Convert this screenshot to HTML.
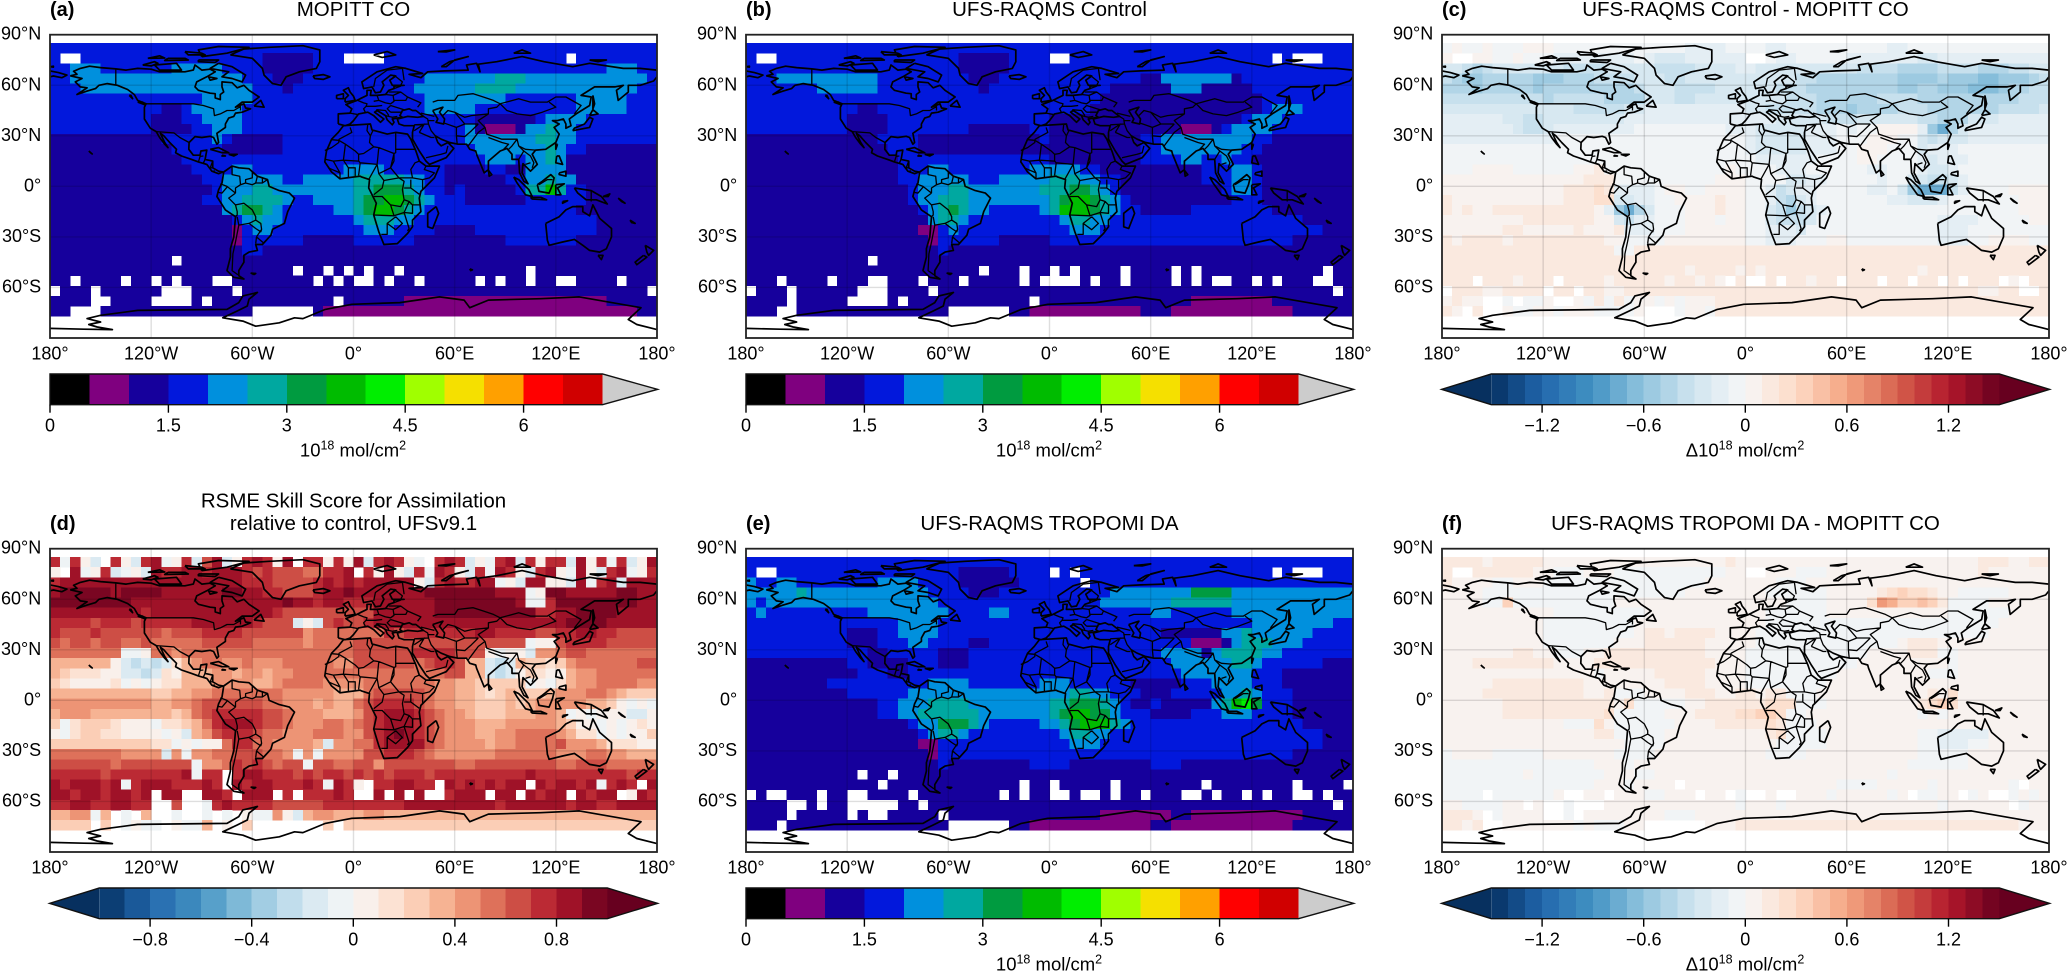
<!DOCTYPE html>
<html lang="en">
<head>
<meta charset="utf-8">
<title>UFS-RAQMS CO maps</title>
<style>
html,body{margin:0;padding:0;background:#fff;width:2067px;height:972px;overflow:hidden}
svg{display:block}
text{font-family:"Liberation Sans",Arial,sans-serif;fill:#000}
</style>
</head>
<body>
<svg id="figure" xmlns="http://www.w3.org/2000/svg" width="2067" height="972" viewBox="0 0 2067 972"></svg>
<script>
const _=null;
// Grid cells: 6 deg wide, rows start at 85N and step 6 deg south.
// Column total values are in units of 0.5e18 mol/cm2.
const mopittCo=[
[3,3,3,3,3,3,3,3,3,3,3,3,3,3,3,3,3,3,3,3,3,3,3,3,3,3,3,3,3,3,3,3,3,3,3,3,3,3,3,3,3,3,3,3,3,3,3,3,3,3,3,3,3,3,3,3,3,3,3,3],
[3,_,_,3,3,3,3,3,3,3,3,3,3,3,3,3,3,3,3,3,3,2,2,2,2,2,3,3,3,_,_,_,_,3,3,3,3,3,3,3,3,3,3,3,3,3,3,3,3,3,3,_,3,3,3,3,3,3,3,3],
[3,3,4,4,4,3,3,3,3,3,3,3,4,4,4,4,4,3,3,3,3,2,2,2,2,2,3,3,3,3,3,3,3,3,3,3,3,3,3,3,3,3,3,3,3,3,3,3,3,3,3,3,3,3,3,4,4,4,3,3],
[3,3,4,4,4,4,4,4,4,4,4,4,4,4,4,4,4,4,4,3,3,3,2,2,2,3,3,3,3,3,3,3,3,3,3,3,3,4,4,4,4,4,4,4,5,5,5,4,4,4,4,4,4,4,4,4,4,4,4,3],
[3,3,3,4,4,4,4,4,4,4,4,4,4,4,4,4,4,4,4,4,3,3,3,2,3,3,3,3,3,3,3,3,3,3,3,3,4,4,4,4,4,4,5,5,5,5,4,4,4,4,4,4,4,4,4,4,4,4,3,3],
[3,3,3,3,3,3,3,3,3,3,3,3,3,3,3,4,4,4,4,4,3,3,3,3,3,3,3,3,3,3,3,3,3,3,3,3,3,4,4,4,4,4,4,4,4,3,3,3,3,3,3,3,4,4,4,4,4,3,3,3],
[3,3,3,3,3,3,3,3,3,3,3,2,2,3,4,4,4,4,4,3,3,3,3,3,3,3,3,3,3,3,3,3,3,3,3,3,3,4,4,4,4,4,3,3,3,3,3,3,3,3,3,3,4,4,4,4,4,3,3,3],
[3,3,3,3,3,3,3,3,3,3,2,2,2,3,3,4,4,4,4,3,3,3,3,3,3,3,3,3,3,3,3,3,3,3,3,3,3,3,3,3,3,3,2,2,2,2,2,2,3,4,4,4,4,3,3,3,3,3,3,3],
[3,3,3,3,3,3,3,3,3,3,2,2,2,2,3,3,4,4,4,3,3,3,3,3,3,3,3,3,3,3,3,3,3,3,3,3,3,3,3,3,3,4,2,1,1,1,2,4,4,5,4,4,3,3,3,3,3,3,3,3],
[2,2,2,2,2,2,2,2,2,2,2,3,3,3,3,3,4,3,2,2,2,2,2,3,3,3,3,3,3,3,3,3,3,3,3,3,3,3,3,3,3,4,4,4,4,4,4,4,5,5,4,4,3,3,3,3,3,3,3,3],
[2,2,2,2,2,2,2,2,2,2,2,2,3,3,3,3,3,2,2,2,2,2,2,3,3,3,3,3,3,3,3,3,3,3,3,3,3,3,3,3,3,3,4,4,4,4,4,4,4,5,4,3,3,2,2,2,2,2,2,2],
[2,2,2,2,2,2,2,2,2,2,2,2,2,3,3,3,3,3,3,3,3,3,3,3,3,3,3,3,3,3,3,3,3,3,3,3,3,3,3,3,3,3,3,4,4,4,3,4,4,5,4,2,2,2,2,2,2,2,2,2],
[2,2,2,2,2,2,2,2,2,2,2,2,2,2,3,3,3,3,4,4,3,3,3,3,3,3,3,3,3,4,4,4,4,3,3,3,3,3,3,2,2,2,2,3,3,2,2,4,4,4,4,2,2,2,2,2,2,2,2,2],
[2,2,2,2,2,2,2,2,2,2,2,2,2,2,2,3,3,4,4,4,4,4,4,3,3,4,4,4,4,4,5,5,5,5,5,4,4,3,3,2,2,2,2,2,2,3,3,4,4,5,4,4,2,2,2,2,2,2,2,2],
[2,2,2,2,2,2,2,2,2,2,2,2,2,2,2,2,3,4,4,4,5,5,4,4,4,4,4,4,4,4,5,5,6,6,6,5,4,3,3,2,3,2,2,2,2,2,3,5,5,7,5,3,3,2,2,2,2,2,2,2],
[2,2,2,2,2,2,2,2,2,2,2,2,2,2,2,3,3,4,4,5,5,5,5,4,3,3,4,4,4,4,5,6,6,7,7,6,5,4,3,3,3,2,2,2,2,2,2,3,3,3,3,3,3,2,2,2,2,2,2,2],
[2,2,2,2,2,2,2,2,2,2,2,2,2,2,2,2,2,4,5,6,6,5,4,3,3,3,3,3,4,4,5,6,7,7,6,5,4,3,3,3,3,3,3,3,3,3,3,3,3,3,3,3,2,2,2,2,2,2,2,2],
[2,2,2,2,2,2,2,2,2,2,2,2,2,2,2,2,2,2,3,4,5,4,4,3,3,3,3,3,3,3,4,5,5,5,4,4,3,3,3,3,3,3,3,3,3,3,3,3,3,3,3,3,3,3,2,2,2,2,2,2],
[2,2,2,2,2,2,2,2,2,2,2,2,2,2,2,2,2,2,1,3,4,4,3,3,3,3,3,3,3,3,3,4,4,4,3,3,3,3,2,2,2,2,3,3,3,3,3,3,3,3,3,3,3,3,2,2,2,2,2,2],
[2,2,2,2,2,2,2,2,2,2,2,2,2,2,2,2,2,2,1,3,3,3,3,3,3,2,2,2,2,2,3,3,3,3,3,3,2,2,2,2,2,2,2,2,2,3,3,3,3,3,3,3,2,2,2,2,2,2,2,2],
[2,2,2,2,2,2,2,2,2,2,2,2,2,2,2,2,2,2,2,3,3,2,2,2,2,2,2,2,2,2,2,2,2,2,2,2,2,2,2,2,2,2,2,2,2,2,2,2,2,2,2,2,2,2,2,2,2,2,2,2],
[2,2,2,2,2,2,2,2,2,2,2,2,_,2,2,2,2,2,2,2,2,2,2,2,2,2,2,2,2,2,2,2,2,2,2,2,2,2,2,2,2,2,2,2,2,2,2,2,2,2,2,2,2,2,2,2,2,2,2,2],
[2,2,2,2,2,2,2,2,2,2,2,2,2,2,2,2,2,2,2,2,2,2,2,2,_,2,2,_,2,_,2,_,2,2,_,2,2,2,2,2,2,2,2,2,2,2,2,_,2,2,2,2,2,2,2,2,2,2,2,2],
[2,2,_,2,2,2,2,_,2,2,_,2,_,2,2,2,_,_,2,2,2,2,2,2,2,2,_,2,_,2,_,_,2,_,2,2,_,2,2,2,2,2,_,2,_,2,2,_,2,2,_,_,2,2,2,2,_,2,2,2],
[_,2,2,2,_,2,2,2,2,2,2,_,_,_,2,2,2,2,_,2,2,2,2,2,2,2,2,2,2,2,2,2,2,2,2,2,2,2,2,2,2,2,2,2,2,2,2,2,2,2,2,2,2,2,2,2,2,2,2,_],
[2,2,2,2,_,_,2,2,2,2,_,_,_,_,2,_,2,2,2,2,2,2,2,2,2,2,2,2,_,2,2,2,2,2,2,1,1,1,1,1,1,1,1,1,1,1,1,1,1,1,1,1,1,1,1,2,2,2,2,2],
[2,2,_,_,_,2,2,2,2,2,2,2,2,2,2,2,2,2,2,2,_,_,_,_,_,_,2,1,1,1,1,1,1,1,1,1,1,1,1,1,1,1,1,1,1,1,1,1,1,1,1,1,1,1,1,1,1,1,2,2]
];
const controlCo=[
[3,3,3,3,3,3,3,3,3,3,3,3,3,3,3,3,3,3,3,3,3,3,3,3,3,3,3,3,3,3,3,3,3,3,3,3,3,3,3,3,3,3,3,3,3,3,3,3,3,3,3,3,3,3,3,3,3,3,3,3],
[3,_,_,3,3,3,3,3,3,3,3,3,3,3,3,3,3,3,3,3,3,2,2,2,2,2,3,3,3,3,_,_,3,3,3,3,3,3,3,3,3,3,3,3,3,3,3,3,3,3,3,3,_,3,_,_,_,3,3,3],
[3,3,3,3,3,3,3,3,3,3,3,3,3,3,3,3,3,3,3,3,3,2,2,2,2,2,3,3,3,3,3,3,3,3,3,3,3,3,3,3,3,3,3,3,3,3,3,3,3,3,3,3,3,3,3,3,3,3,3,3],
[3,3,3,4,4,4,4,4,4,4,4,4,4,3,3,3,3,3,3,3,3,3,2,2,2,3,3,3,3,3,3,3,3,3,3,3,3,3,3,2,2,4,4,4,4,4,4,4,2,3,3,3,3,3,3,3,3,3,3,3],
[3,3,3,3,3,3,3,4,4,4,4,4,4,3,3,3,3,3,3,3,3,3,3,2,3,3,3,3,3,3,3,3,3,3,3,3,2,2,2,2,2,2,4,4,4,2,2,2,2,2,3,3,3,3,3,3,3,3,3,3],
[3,3,3,3,3,3,3,3,3,3,3,3,3,3,3,3,3,3,3,3,3,3,3,3,3,3,3,3,3,3,3,3,3,3,3,2,2,2,2,2,2,2,2,2,2,2,2,2,2,2,2,3,3,3,3,3,3,3,3,3],
[3,3,3,3,3,3,3,3,3,3,3,2,2,3,3,3,3,3,3,3,3,3,3,3,3,3,3,3,3,3,3,3,3,3,2,2,2,2,2,2,2,2,2,2,2,2,2,2,2,2,2,3,4,4,4,3,3,3,3,3],
[3,3,3,3,3,3,3,3,3,3,2,2,2,2,3,3,3,3,3,3,3,3,3,3,3,3,3,3,3,3,2,2,2,2,2,2,2,2,2,2,2,2,2,2,2,2,2,2,2,3,4,4,4,3,3,3,3,3,3,3],
[3,3,3,3,3,3,3,3,3,3,2,2,2,2,3,3,3,3,3,3,3,3,2,2,2,2,2,2,3,3,2,2,2,2,2,2,2,2,2,2,2,2,2,1,1,1,2,3,4,4,4,4,3,3,3,3,3,3,3,3],
[2,2,2,2,2,2,2,2,2,2,2,2,2,3,3,3,3,2,2,2,2,2,2,2,2,2,2,2,2,3,2,2,2,2,2,2,2,2,2,3,3,4,4,4,4,4,4,4,4,4,3,3,2,2,2,2,2,2,2,2],
[2,2,2,2,2,2,2,2,2,2,2,2,2,2,3,3,3,2,2,2,2,2,2,2,2,2,2,2,2,2,2,2,2,2,2,2,2,2,2,3,3,4,4,4,4,4,4,4,4,3,3,2,2,2,2,2,2,2,2,2],
[2,2,2,2,2,2,2,2,2,2,2,2,2,2,2,3,3,3,3,3,3,3,3,3,3,3,3,3,3,3,2,2,2,2,2,2,2,2,2,3,3,3,3,4,4,3,3,4,3,3,2,2,2,2,2,2,2,2,2,2],
[2,2,2,2,2,2,2,2,2,2,2,2,2,2,2,3,3,3,4,4,3,3,3,3,3,3,3,3,4,4,4,4,4,3,3,2,2,2,2,2,2,2,2,2,2,3,3,3,4,4,3,2,2,2,2,2,2,2,2,2],
[2,2,2,2,2,2,2,2,2,2,2,2,2,2,2,3,3,4,4,4,4,4,3,3,3,4,4,4,4,4,5,5,5,4,4,3,3,2,2,2,2,2,2,2,2,3,3,3,4,4,3,2,2,2,2,2,2,2,2,2],
[2,2,2,2,2,2,2,2,2,2,2,2,2,2,2,2,3,4,4,4,5,5,4,4,4,4,4,4,4,5,5,5,6,6,5,4,3,2,2,2,2,2,2,2,2,2,2,3,4,4,3,2,2,2,2,2,2,2,2,2],
[2,2,2,2,2,2,2,2,2,2,2,2,2,2,2,2,3,4,4,5,5,5,4,4,4,4,4,4,4,4,5,6,7,7,6,5,4,3,2,2,2,2,2,2,2,2,2,2,3,3,3,2,2,2,2,2,2,2,2,2],
[2,2,2,2,2,2,2,2,2,2,2,2,2,2,2,2,2,3,4,5,6,5,4,4,3,3,3,3,3,4,5,7,7,7,6,5,4,3,3,2,2,2,2,2,3,3,3,3,3,3,3,3,2,2,2,2,2,2,2,2],
[2,2,2,2,2,2,2,2,2,2,2,2,2,2,2,2,2,2,4,5,5,4,3,3,3,3,3,3,3,3,3,4,5,5,4,4,3,3,3,3,3,3,3,3,3,3,3,3,3,3,3,3,3,3,3,2,2,2,2,2],
[2,2,2,2,2,2,2,2,2,2,2,2,2,2,2,2,2,1,1,3,4,3,3,3,3,3,3,3,3,3,3,3,4,4,4,3,3,3,3,3,3,3,3,3,3,3,3,3,3,3,3,3,3,3,3,3,3,2,2,2],
[2,2,2,2,2,2,2,2,2,2,2,2,2,2,2,2,2,2,1,3,3,3,3,3,3,2,2,2,2,2,3,3,3,3,3,3,3,3,3,3,3,3,3,3,3,3,3,3,3,3,3,3,3,3,2,2,2,2,2,2],
[2,2,2,2,2,2,2,2,2,2,2,2,2,2,2,2,2,2,2,3,2,2,2,2,2,2,2,2,2,2,2,2,2,2,2,2,2,2,2,2,2,2,2,2,2,2,2,2,2,2,2,2,2,2,2,2,2,2,2,2],
[2,2,2,2,2,2,2,2,2,2,2,2,_,2,2,2,2,2,2,2,2,2,2,2,2,2,2,2,2,2,2,2,2,2,2,2,2,2,2,2,2,2,2,2,2,2,2,2,2,2,2,2,2,2,2,2,2,2,2,2],
[2,2,2,2,2,2,2,2,2,2,2,2,2,2,2,2,2,2,2,2,2,2,2,_,2,2,2,_,2,2,_,2,_,2,2,2,2,_,2,2,2,2,_,2,_,2,2,2,2,2,2,2,2,2,2,2,2,_,2,2],
[2,2,2,_,2,2,2,2,_,2,2,2,_,_,2,2,2,_,2,2,2,_,2,2,2,2,2,_,2,_,_,_,_,2,_,2,2,_,2,2,2,2,_,2,_,2,_,_,2,2,_,2,_,2,2,2,_,_,2,2],
[_,2,2,2,_,2,2,2,2,2,2,_,_,_,2,2,2,2,_,2,2,2,2,2,2,2,2,2,2,2,2,2,2,2,2,2,2,2,2,2,2,2,2,2,2,2,2,2,2,2,2,2,2,2,2,2,2,2,_,2],
[2,2,2,2,_,2,2,2,2,2,_,_,_,_,2,_,2,2,2,2,2,2,2,2,2,2,2,2,_,2,2,2,2,2,2,2,2,2,2,2,2,2,2,2,1,1,1,1,1,1,1,1,2,2,2,2,2,2,2,2],
[2,2,2,_,_,2,2,2,2,2,2,2,2,2,2,2,2,2,2,2,_,_,_,_,_,_,2,2,1,1,1,1,1,1,1,1,1,1,1,2,2,2,1,1,1,1,1,1,1,1,1,1,1,1,2,2,2,2,2,2]
];
const assimilationCo=[
[3,3,3,3,3,3,3,3,3,3,3,3,3,3,3,3,3,3,3,3,3,3,3,3,3,3,3,3,3,3,3,3,3,3,3,3,3,3,3,3,3,3,3,3,3,3,3,3,3,3,3,3,3,3,3,3,3,3,3,3],
[3,_,_,3,3,3,3,3,3,3,3,3,3,3,3,3,3,3,3,3,3,2,2,2,2,2,3,3,3,3,_,3,_,3,3,3,3,3,3,3,3,3,3,3,3,3,3,3,3,3,3,3,_,3,_,_,_,3,3,3],
[4,3,3,4,4,3,3,3,3,3,3,3,3,4,4,4,4,3,3,3,3,2,2,2,2,2,2,3,3,3,3,3,3,_,3,3,3,3,3,3,3,3,3,3,3,3,3,3,3,3,3,3,3,3,3,3,3,3,3,3],
[4,4,4,4,4,5,4,4,4,4,4,4,4,4,4,4,4,4,3,3,3,3,2,2,2,3,3,3,3,3,3,3,3,3,3,3,4,4,4,4,4,4,4,4,6,6,6,6,4,4,4,4,4,4,4,4,4,4,4,4],
[4,3,4,4,4,4,4,4,4,4,4,4,4,4,4,4,4,4,4,3,3,3,3,3,3,3,3,3,3,3,3,3,3,3,3,4,4,4,4,4,4,4,5,5,5,5,5,5,4,4,4,4,4,4,4,4,4,4,4,4],
[3,4,3,3,3,3,3,3,3,3,3,3,4,4,4,4,4,4,4,4,3,3,3,3,4,4,3,3,3,3,3,3,3,3,3,3,3,3,3,3,4,4,3,3,3,3,3,3,4,4,4,4,4,4,4,4,4,4,4,4],
[3,3,3,3,3,3,3,3,3,3,3,3,3,3,3,4,4,4,4,3,3,3,3,3,3,3,3,3,3,3,3,3,3,3,3,3,3,3,3,3,3,3,3,3,3,3,3,3,3,3,4,4,4,4,4,4,4,4,3,3],
[3,3,3,3,3,3,3,3,3,3,2,2,2,3,3,4,4,4,4,3,3,3,3,3,3,3,3,3,3,3,3,3,3,3,3,3,3,3,3,3,3,2,2,2,2,2,2,4,4,5,4,4,4,4,4,4,3,3,3,3],
[3,3,3,3,3,3,3,3,3,3,2,2,2,3,3,3,4,4,3,3,3,3,2,2,3,3,3,3,3,3,3,3,3,3,3,3,3,3,3,3,3,3,3,3,1,1,1,2,4,5,5,5,4,4,4,3,3,3,3,3],
[3,3,3,3,3,3,3,3,3,3,3,3,2,2,3,3,3,3,3,2,2,2,3,3,3,3,3,3,3,3,3,3,3,3,3,3,3,3,3,3,3,4,4,4,4,2,4,5,5,5,5,4,4,3,3,3,3,3,3,3],
[2,2,2,2,2,2,2,2,2,2,3,3,2,2,2,2,3,3,3,2,2,2,3,3,3,3,3,3,3,3,3,3,3,3,3,3,3,3,3,3,3,3,4,4,4,4,4,4,5,5,4,3,3,3,3,3,3,2,2,2],
[2,2,2,2,2,2,2,2,2,2,2,3,3,3,2,2,3,3,3,3,3,3,3,3,3,3,3,3,3,3,3,3,3,3,3,3,3,3,3,3,3,3,3,4,4,4,4,4,4,4,3,3,3,2,2,2,2,2,2,2],
[2,2,2,2,2,2,2,2,3,3,3,3,3,3,3,3,3,3,4,4,4,4,3,3,3,3,3,3,3,4,4,4,3,3,3,3,3,3,2,2,2,2,2,3,3,3,4,4,4,4,3,3,3,2,2,2,2,2,2,2],
[2,2,2,2,2,2,2,2,2,2,3,3,3,3,3,3,4,4,4,4,4,4,4,4,4,4,4,4,4,4,4,4,5,5,4,4,3,3,3,2,2,2,3,3,3,3,3,4,4,5,4,3,3,3,2,2,2,2,2,2],
[2,2,2,2,2,2,2,2,2,2,2,2,2,3,3,4,4,4,5,5,5,5,4,4,4,4,4,4,4,4,5,5,6,6,6,5,4,3,2,2,3,2,2,2,2,2,4,5,7,8,6,3,3,3,2,2,2,2,2,2],
[2,2,2,2,2,2,2,2,2,2,2,2,2,3,3,4,4,5,5,5,5,5,5,4,4,4,4,4,4,4,5,6,7,7,6,6,4,3,3,3,2,2,2,2,3,3,3,4,4,4,3,3,3,3,2,2,2,2,2,2],
[2,2,2,2,2,2,2,2,2,2,2,2,2,2,2,2,3,4,4,6,6,6,5,4,3,3,3,3,3,4,4,5,6,7,7,7,5,4,3,3,3,3,3,3,3,3,3,3,3,3,3,3,3,3,3,2,2,2,2,2],
[2,2,2,2,2,2,2,2,2,2,2,2,2,2,2,2,2,3,4,5,5,4,3,3,3,3,3,3,3,3,3,4,5,5,4,4,3,3,3,3,3,3,3,3,3,3,3,3,3,3,3,3,3,3,3,3,3,2,2,2],
[2,2,2,2,2,2,2,2,2,2,2,2,2,2,2,2,2,1,1,3,3,3,3,3,3,3,3,3,3,3,3,3,4,4,4,3,3,3,3,3,3,3,3,3,3,3,3,3,3,3,3,3,3,3,3,3,3,2,2,2],
[2,2,2,2,2,2,2,2,2,2,2,2,2,2,2,2,2,2,1,3,3,3,3,3,3,3,3,3,3,3,3,3,3,3,3,3,3,3,3,3,3,3,3,3,3,3,3,3,3,3,3,3,3,3,2,2,2,2,2,2],
[2,2,2,2,2,2,2,2,2,2,2,2,2,2,2,2,2,2,2,3,2,2,2,2,2,2,2,2,3,3,3,3,2,2,2,2,2,2,2,2,3,3,3,2,2,2,2,2,2,2,2,2,2,2,2,2,2,2,2,2],
[2,2,2,2,2,2,2,2,2,2,2,_,2,2,_,2,2,2,2,2,2,2,2,2,2,2,2,2,2,2,2,2,2,2,2,2,2,2,2,2,2,2,2,2,2,2,2,2,2,2,2,2,2,2,2,2,2,2,2,2],
[2,2,2,2,2,2,2,2,2,2,2,2,2,_,2,2,2,2,2,2,2,2,2,2,2,2,2,_,2,2,_,2,2,2,2,2,_,2,2,2,2,2,2,2,2,_,2,2,2,2,2,2,2,2,_,2,2,2,2,_],
[_,2,_,_,2,2,2,_,2,2,_,_,2,2,2,2,_,2,2,2,2,2,2,2,2,_,2,_,2,2,_,_,2,_,_,2,_,2,2,_,2,2,2,_,_,2,_,2,2,_,2,_,2,2,_,_,2,_,2,2],
[2,2,2,2,_,_,2,_,2,2,_,_,_,_,_,2,2,_,2,2,2,2,2,2,2,2,2,2,2,2,2,2,2,2,2,2,2,2,2,2,2,2,2,2,2,2,2,2,2,2,2,2,2,2,2,2,2,2,_,2],
[2,2,2,2,_,2,2,2,2,2,_,2,_,_,2,2,2,2,2,_,2,2,2,2,2,2,2,2,2,2,2,2,2,2,2,1,1,1,1,1,1,1,2,2,1,1,1,1,1,1,1,1,1,1,1,2,2,2,2,2],
[2,2,2,_,2,2,2,2,2,2,2,2,2,2,2,2,2,2,2,2,_,_,_,_,_,_,2,2,1,1,1,1,1,1,1,1,1,1,1,1,2,2,1,1,1,1,1,1,1,1,1,1,1,1,2,2,2,2,2,2]
];
// Difference fields: units of 0.1e18 mol/cm2; a value k is the bin from k to k+1.
const controlMinusMopitt=[
[-1,0,-1,-1,0,-1,-1,-1,0,0,0,-1,-1,-1,-1,-1,-1,-1,-1,-1,-1,-1,-1,-1,-2,-2,-2,-2,-1,-1,-1,-1,-2,-2,-1,-1,-1,-1,-1,-1,-1,-1,-1,-1,-2,-2,-1,-1,-1,-1,-1,-1,-1,-1,-1,-1,-1,-1,-1,-1],
[0,_,_,0,0,-1,-1,0,-1,-1,-1,-2,-2,-2,-2,-2,-2,-2,-2,-1,-2,-3,-3,-3,-2,-2,-2,-2,-2,-2,_,_,-1,-2,-2,-1,-1,-1,-1,-1,-2,-2,-2,-2,-2,-2,-2,-3,-3,-2,-2,-2,-2,-2,-2,-2,-2,-2,-2,-2],
[-3,-3,-4,-5,-4,-3,-3,-3,-3,-3,-3,-3,-4,-4,-4,-4,-3,-3,-3,-3,-3,-4,-4,-4,-4,-3,-3,-3,-3,-2,-2,-3,-3,-3,-3,-3,-3,-3,-3,-3,-3,-4,-4,-4,-4,-5,-5,-5,-5,-4,-4,-4,-4,-5,-5,-5,-4,-4,-3,-3],
[-4,-5,-6,-6,-5,-5,-5,-5,-5,-6,-6,-6,-5,-5,-5,-4,-4,-4,-4,-3,-3,-3,-4,-4,-3,-3,-3,-3,-3,-3,-3,-3,-3,-3,-3,-4,-4,-5,-5,-5,-5,-5,-5,-5,-5,-6,-6,-6,-6,-5,-6,-6,-6,-7,-7,-6,-6,-6,-5,-4],
[-5,-5,-5,-6,-5,-5,-5,-5,-5,-6,-5,-5,-5,-5,-5,-5,-5,-5,-5,-4,-3,-3,-3,-4,-4,-4,-4,-3,-3,-3,-3,-3,-3,-4,-4,-4,-5,-5,-5,-5,-5,-5,-5,-5,-5,-6,-6,-5,-5,-6,-6,-6,-7,-7,-7,-6,-5,-5,-4,-4],
[-4,-4,-4,-4,-4,-4,-4,-4,-4,-4,-5,-4,-4,-4,-4,-4,-5,-5,-5,-5,-3,-3,-3,-4,-4,-3,-3,-3,-3,-3,-3,-3,-3,-3,-4,-4,-4,-5,-5,-5,-5,-5,-5,-4,-4,-4,-4,-5,-5,-5,-5,-5,-5,-5,-5,-5,-5,-4,-4,-4],
[-3,-3,-3,-3,-3,-3,-3,-3,-3,-3,-3,-3,-3,-4,-4,-4,-4,-4,-3,-3,-2,-2,-2,-2,-2,-2,-2,-2,-2,-2,-3,-3,-4,-4,-4,-4,-4,-5,-5,-5,-6,-5,-5,-5,-5,-4,-4,-4,-5,-5,-5,-5,-5,-5,-5,-4,-4,-4,-4,-3],
[-2,-2,-2,-2,-2,-2,-3,-3,-4,-4,-3,-3,-3,-3,-3,-3,-3,-3,-2,-2,-2,-2,-2,-2,-2,-2,-2,-2,-2,-2,-2,-2,-2,-3,-3,-3,-3,-3,-4,-4,-4,-3,-3,-3,-3,-3,-3,-4,-4,-5,-5,-5,-3,-3,-3,-2,-2,-2,-2,-2],
[-2,-2,-2,-2,-2,-2,-2,-3,-4,-4,-3,-2,-2,-2,-2,-2,-2,-2,-2,-1,-1,-1,-1,-1,-1,-1,-1,-1,-2,-2,-2,-3,-3,-3,-3,-3,-2,-2,-2,-1,-2,-1,-1,0,0,0,0,-2,-6,-8,-5,-3,-2,-2,-2,-2,-2,-2,-2,-2],
[-2,-2,-2,-2,-2,-2,-2,-2,-2,-2,-2,-1,-1,-1,-1,-1,-1,-1,-1,-1,-1,-1,-1,-1,-1,-1,-1,-1,-1,-1,-2,-3,-3,-3,-3,-3,-2,-2,-2,-1,-1,-1,0,0,0,-1,-1,-3,-4,-3,-3,-3,-2,-2,-2,-2,-2,-2,-2,-2],
[-1,-1,-1,-1,-1,-1,-1,-1,-1,-1,-1,-1,-1,-1,-1,-1,-1,-1,-1,-1,-1,-1,-1,-1,-1,-1,-1,-1,-1,-1,-2,-3,-3,-3,-3,-3,-2,-2,-2,-1,-1,0,0,0,-1,-1,-1,-3,-2,-2,-2,-1,-1,-1,-1,-1,-1,-1,-1,-1],
[-1,-1,-1,-1,-1,-1,-1,-1,-1,-1,-1,-1,-1,-1,-1,-1,-1,-1,-1,-1,-1,-1,-1,-1,-1,-1,-1,-1,-1,-1,-1,-2,-2,-2,-2,-2,-2,-1,-1,-1,-1,0,0,-1,-1,-1,-1,-2,-3,-2,-2,-2,-1,-1,-1,-1,-1,-1,-1,-1],
[-1,-1,-1,0,0,0,0,-1,-1,-1,-1,-1,-1,0,0,1,-1,-1,-1,-1,-1,-1,-1,-1,-1,-1,-1,-1,0,-1,-1,-1,-1,-2,-2,-2,-1,-1,-1,-1,-1,-1,-2,-2,-1,-1,-1,-2,-3,-3,-2,-1,-1,-1,-1,-1,-1,-1,-1,-1],
[0,0,0,0,0,0,0,0,0,0,0,0,0,0,1,1,1,-1,-1,-1,-1,-1,-1,-1,-1,-1,-1,0,0,0,-1,-1,-1,-1,-3,-3,-2,-2,-1,-1,-1,-1,-1,-2,-1,-1,-3,-3,-4,-4,-3,-2,-1,-1,-1,-1,-1,-1,-1,-1],
[0,0,0,0,0,0,0,0,0,0,0,0,1,1,1,2,1,-2,-2,-2,-2,-1,0,0,-1,-1,0,0,0,0,-1,-1,-2,-4,-3,-2,-2,-1,-1,-1,-1,-1,-2,-2,-1,-3,-6,-8,-8,-8,-4,-2,-1,-1,-1,-1,0,0,0,0],
[1,0,0,0,0,0,0,0,0,0,0,0,1,1,1,2,2,-3,-3,-2,-2,-1,-1,0,0,0,0,1,0,0,-1,-1,-2,-4,-5,-3,-2,-1,-1,-1,-1,-1,-1,-1,-2,-2,-3,-3,-3,-2,-1,-1,-1,-1,-1,-1,-1,0,0,0],
[1,0,1,0,0,1,1,1,1,1,1,1,1,1,1,0,-2,-6,-8,-5,-3,-1,-1,-1,0,0,0,1,0,0,-1,-1,-3,-4,-6,-4,-3,-2,-1,-1,-1,-1,-1,-1,-1,-1,-1,-1,-1,-1,-1,-1,-1,-1,-1,-1,-1,0,0,0],
[0,0,0,0,0,0,0,0,1,1,1,1,1,1,1,0,0,-3,-4,-2,-2,-1,-1,-1,0,0,0,-1,0,0,-1,-1,-3,-4,-4,-4,-3,-1,-1,-1,-1,-1,-1,-1,-1,-1,-1,-1,-1,-2,-2,-2,-2,-1,-1,-1,-1,-1,0,0],
[0,0,0,0,0,0,1,1,0,0,0,0,0,1,0,0,0,1,-2,-2,-2,-1,-1,-1,0,0,0,0,0,0,-1,-1,-2,-2,-2,-3,-1,-1,-1,-1,-1,-1,-1,-1,-1,-1,-1,-1,-1,-2,-2,-2,-1,-1,-1,-1,-1,-1,-1,-1],
[1,0,1,1,1,1,0,1,1,1,1,1,1,1,1,1,0,0,-1,-1,-1,-1,0,0,0,0,0,0,0,0,-1,-1,-2,-2,-2,-1,-1,-1,0,0,-1,-1,-1,-1,-1,-1,-1,-1,-1,-2,-2,-2,-1,-1,0,0,0,0,-1,-1],
[1,1,1,1,1,1,1,1,1,1,1,1,1,1,1,1,1,-1,-1,1,1,1,1,1,1,1,1,1,1,1,1,1,1,1,1,1,1,1,1,1,1,1,1,1,1,1,1,1,1,1,1,1,1,1,1,1,1,1,1,1],
[1,1,1,1,1,1,1,1,1,1,1,1,1,1,1,1,1,1,1,1,1,1,1,1,1,1,1,1,1,1,1,1,1,1,1,1,1,1,1,1,1,1,1,1,1,1,1,1,1,1,1,1,1,1,1,1,1,1,1,1],
[1,1,1,1,1,1,1,1,1,1,1,1,1,1,1,1,1,1,1,1,1,1,1,1,0,1,1,1,1,0,1,0,1,1,1,1,1,1,1,1,1,1,1,1,1,1,1,0,1,1,1,1,1,1,1,1,1,1,1,1],
[1,1,1,_,1,1,1,0,1,1,1,_,1,1,1,1,0,1,1,1,1,1,0,1,1,0,1,0,_,1,_,_,1,_,1,1,0,1,1,_,1,1,1,_,1,1,_,1,1,_,1,_,1,1,1,_,0,_,1,1],
[_,1,1,1,0,0,1,1,1,1,_,1,1,_,1,1,0,0,1,1,1,1,1,1,1,1,1,1,1,1,1,1,1,1,1,1,1,1,1,1,1,1,1,1,1,1,1,1,1,1,1,1,1,0,0,1,1,_,_,1],
[0,1,0,0,_,_,-1,_,-1,-1,0,_,_,0,-1,1,-1,1,-1,0,0,-1,0,-1,0,0,0,1,1,1,1,1,1,1,1,1,1,1,1,1,1,1,1,1,1,1,1,1,1,1,1,1,1,1,1,1,1,1,1,1],
[1,0,_,1,_,_,0,-1,-1,0,0,-1,0,0,0,-1,-1,-1,-1,0,_,_,_,-1,0,0,-1,1,1,1,1,1,1,1,1,1,1,1,1,1,1,1,1,1,1,1,1,1,1,1,1,1,1,1,1,1,1,1,1,1]
];
const assimilationMinusMopitt=[
[1,1,1,1,0,1,1,1,1,1,0,0,0,0,0,0,0,0,0,0,0,0,0,0,0,0,0,0,1,0,0,0,0,0,0,0,0,0,0,0,0,0,0,0,0,0,0,0,0,0,0,0,0,1,1,1,0,0,1,1],
[1,_,_,1,1,1,1,1,1,0,0,-1,-1,-1,0,0,0,-1,-1,-1,-1,-1,-1,-1,-1,-1,-1,-1,0,0,_,_,0,0,0,-1,-1,-1,0,0,0,0,0,0,0,0,0,0,0,0,0,0,0,1,0,0,0,0,0,0],
[1,0,0,0,0,-1,-1,0,0,0,-1,-1,-1,-1,-1,-1,-1,-1,-1,-1,-1,-1,-1,-1,-1,-1,0,0,0,0,0,0,0,-1,-1,-1,0,0,0,0,0,0,0,0,0,0,0,0,0,0,0,0,0,0,0,0,0,0,0,0],
[0,0,0,0,-1,-1,-1,-1,-1,-1,-1,-1,-1,-1,-1,-1,-1,-1,-1,-1,-1,-1,-1,-1,0,0,0,0,0,0,0,0,-1,-1,-1,-1,-1,-1,0,0,0,0,0,1,2,3,2,2,1,0,0,-1,-1,-1,-1,-1,0,0,0,0],
[0,0,0,0,-1,-1,3,-1,-1,-1,-1,-1,-1,-1,-1,-1,-1,0,0,0,0,0,0,0,0,0,0,0,0,0,0,0,0,0,-1,-1,-1,-1,0,0,0,0,2,6,5,3,3,4,3,1,-1,-1,-1,-1,0,0,0,0,0,0],
[0,0,0,0,0,0,0,0,0,0,0,-1,-1,-1,-1,-1,-1,-1,-1,-1,0,0,0,0,0,0,0,0,0,0,0,0,-1,-1,-1,-1,-1,-1,0,0,0,0,0,0,0,0,0,0,0,0,-1,-1,-1,-1,-1,-1,0,0,0,0],
[0,0,0,0,0,0,0,0,0,0,-1,-1,-1,-1,-1,-1,-1,-1,-1,0,0,0,0,0,0,0,0,0,0,0,0,0,-1,-1,-1,-1,-1,-1,-1,-1,-1,-1,-1,-1,-1,-1,-1,-1,-1,-1,-1,-1,-1,-1,-1,0,0,0,0,0],
[0,0,0,0,0,0,0,0,0,0,-1,-1,-1,-1,-1,-1,-1,-1,-1,0,1,1,0,1,1,1,1,0,0,0,0,-1,-1,-1,-1,-1,-1,-1,-1,-1,-1,-1,-1,-1,-1,-1,-1,-1,-1,-1,-1,-1,-1,-1,0,0,0,0,0,0],
[0,0,0,0,0,0,0,0,0,0,-1,-1,-1,-1,-1,-1,-1,0,0,0,1,1,1,1,1,1,0,0,0,0,0,-1,-1,-1,-1,-1,-1,-1,-1,-1,-1,-1,-1,-1,-1,0,1,1,1,0,0,0,0,0,0,0,0,0,0,0],
[0,0,0,0,0,0,0,1,1,0,0,-1,-1,-1,0,0,1,1,1,1,1,1,1,1,1,1,0,0,0,0,-1,-1,-1,-1,-1,-1,-1,-1,-1,-1,-1,-1,0,0,0,0,1,1,1,-1,-1,0,0,0,0,0,0,0,0,0],
[0,0,0,1,1,1,1,1,1,1,1,0,0,0,0,1,1,1,1,1,1,1,1,1,1,1,1,0,0,0,-1,-1,-1,-1,-1,-1,-1,-1,-1,-1,-1,0,0,0,0,0,0,0,0,0,-1,0,0,0,0,0,0,0,0,0],
[0,0,0,0,0,0,0,0,0,0,0,0,0,0,0,-1,0,0,0,0,0,1,1,1,1,1,0,0,0,0,-1,-1,-1,-1,-1,-1,-1,-1,-1,0,0,0,0,0,0,0,0,0,-1,-1,-1,0,0,0,0,0,0,0,0,0],
[0,0,0,0,0,1,1,1,1,1,1,1,1,1,0,0,0,0,0,0,0,0,1,1,1,1,0,0,0,0,-1,-1,-1,-1,-1,-1,-1,-1,0,0,0,0,0,0,0,0,0,0,0,0,0,0,0,0,0,0,0,0,0,0],
[0,0,0,0,1,1,1,1,1,1,1,1,1,1,0,0,1,-1,-1,-1,0,0,0,0,1,1,1,0,0,1,1,0,1,1,-1,-1,-1,0,0,0,0,0,0,0,0,0,0,0,1,0,2,0,0,0,0,0,0,0,0,0],
[0,0,0,0,0,0,1,1,1,1,1,1,1,1,1,1,1,0,2,-1,-1,-1,-1,-1,0,0,1,1,1,1,1,1,2,2,2,-1,-1,-1,0,0,0,0,0,0,0,0,0,1,2,3,2,0,0,0,0,0,0,0,0,0],
[0,0,0,0,0,0,1,1,1,1,1,1,1,1,1,1,2,-1,-1,-1,-1,-1,0,0,0,1,1,1,1,2,2,3,3,2,-1,-1,0,0,0,0,0,0,0,0,0,0,0,-1,0,-1,0,0,0,0,0,0,0,0,0,0],
[0,0,0,0,0,0,0,0,0,0,0,0,-1,-1,-1,2,0,-1,-1,-1,-1,-1,-1,0,0,0,0,1,1,1,1,1,2,1,-1,-1,-1,0,0,0,0,0,0,0,0,0,0,0,0,0,0,0,0,0,0,0,0,0,0,0],
[0,0,0,0,0,0,0,0,0,0,0,0,0,0,0,1,1,-1,-1,-1,-1,-1,0,0,0,0,0,0,0,0,0,0,1,2,-1,-1,-1,-1,0,0,0,0,0,0,0,0,0,-1,-1,-2,-2,-2,-2,-2,0,0,0,0,0,0],
[0,0,0,0,0,0,0,0,0,0,0,0,0,0,0,0,0,0,-1,-1,-1,-1,0,0,0,0,0,0,0,0,0,0,0,-1,-1,-1,-1,-1,0,0,0,0,0,0,0,0,0,-1,-1,-2,-2,-2,-1,-1,0,0,0,0,0,0],
[-1,0,0,0,0,-1,-1,-1,-1,-1,0,0,0,0,0,0,0,-1,-1,-1,-1,0,0,0,0,0,0,0,0,0,0,0,-1,-1,-1,-1,0,0,0,0,0,0,0,0,0,0,0,-1,-1,-1,-1,-1,0,0,0,0,0,0,0,0],
[-1,-1,-1,-1,-1,-1,-1,-1,-1,-1,-1,-1,-1,-1,-1,0,0,0,-1,0,0,0,0,0,0,0,0,0,0,0,0,0,0,0,0,0,0,0,0,0,0,0,0,0,0,0,-1,-1,-1,-1,-1,-1,0,0,0,0,0,0,0,0],
[-1,-1,-1,-1,-1,-1,-1,-1,0,-1,-1,-1,-1,-1,-1,-1,0,0,0,-1,-1,0,0,0,0,0,0,0,0,0,0,0,0,0,0,0,0,0,0,0,0,0,0,0,-1,0,0,0,0,0,0,0,0,0,0,0,0,0,0,0],
[-1,-1,-1,-1,-1,-1,-1,-1,-1,-1,-1,-1,-1,-1,-1,0,0,0,-1,0,0,0,0,_,0,0,0,0,0,0,0,0,0,0,0,0,0,0,0,-1,-1,-1,-1,0,0,0,0,0,-1,0,0,0,0,0,0,0,-1,_,0,0],
[-1,-1,-1,-1,_,-1,-1,-1,-1,-1,-1,0,_,_,0,0,_,0,0,0,-1,-1,0,0,0,_,0,0,_,-1,_,_,0,_,_,0,0,0,-1,0,0,0,0,0,-1,0,_,-1,-1,0,0,_,-1,0,_,_,-1,0,-1,0],
[0,0,-1,-1,-1,-1,0,0,_,0,_,_,-1,_,_,_,0,0,0,0,0,0,0,0,0,0,0,0,0,-1,0,0,0,-1,0,0,0,0,0,0,0,0,0,0,0,0,0,0,0,-1,0,0,0,0,0,0,_,-1,0,0],
[1,1,1,0,_,-1,0,0,0,0,_,_,-1,_,0,0,0,0,0,0,0,0,-1,-1,-1,0,0,0,0,0,0,0,0,0,0,0,0,0,0,0,0,0,0,0,0,0,0,0,0,0,0,0,0,0,0,0,0,0,0,0],
[1,1,0,1,_,_,0,0,0,0,0,0,0,-1,0,-1,-1,-1,0,0,_,_,_,_,_,_,0,0,0,1,1,1,1,1,1,1,1,1,1,1,1,1,1,1,1,1,1,1,1,1,1,1,1,1,1,1,1,0,0,0]
];
// Skill score: units of 0.1; a value k is the bin from k to k+1.
const skillScore=[
[7,-1,7,0,-2,_,7,0,-2,7,8,-1,0,7,-2,6,8,-2,0,7,8,7,0,8,_,7,7,0,7,0,8,-2,7,8,7,0,-1,_,7,8,7,-2,0,-1,7,8,-2,7,0,7,7,-2,8,0,7,-1,7,-2,0,8],
[0,_,8,-1,0,7,-2,-1,0,-2,8,7,7,8,8,7,8,8,8,7,6,7,6,6,6,5,5,7,7,8,_,7,0,8,0,-2,7,-1,8,7,0,-2,7,-1,8,7,0,-2,7,8,0,-1,8,0,-2,7,8,-1,0,7],
[7,8,8,8,8,8,8,8,8,8,8,8,8,8,8,8,8,8,8,7,7,7,6,6,6,6,7,8,7,8,7,8,8,8,8,8,0,-2,7,8,7,7,8,8,-1,0,-2,8,8,0,0,-2,8,-1,7,8,-2,8,8,8],
[8,9,9,9,9,9,8,9,9,9,9,8,8,8,8,8,8,9,9,8,8,7,7,6,6,6,7,8,8,9,8,8,8,8,8,8,8,9,9,9,9,9,9,9,8,8,8,-1,0,9,9,8,8,8,8,8,9,9,8,8],
[9,9,9,9,9,9,9,9,8,8,8,8,8,8,8,8,8,8,8,8,8,8,8,9,8,8,7,8,8,7,7,7,8,8,8,8,8,8,9,9,9,9,9,9,9,9,8,-1,-1,7,9,9,9,9,9,9,9,9,8,8],
[8,8,8,8,8,8,8,8,8,7,8,8,8,8,8,8,8,8,8,8,8,8,7,6,6,6,6,6,6,6,6,6,8,8,8,8,8,8,9,9,9,9,9,9,9,9,9,9,7,7,8,8,9,9,9,9,8,8,8,8],
[7,7,7,7,6,7,7,7,6,7,7,7,7,7,8,8,8,8,8,8,7,6,6,6,-2,0,-2,6,7,6,6,7,8,8,8,8,8,8,8,8,8,8,8,8,8,8,8,8,8,8,8,9,9,9,9,8,8,8,8,8],
[7,6,6,6,7,6,6,6,6,6,6,5,6,6,6,7,7,7,7,6,6,6,6,6,6,4,5,5,5,5,5,5,5,7,6,7,7,7,7,7,7,7,8,8,7,7,7,7,6,6,7,7,8,8,7,7,6,6,6,6],
[6,5,6,6,5,6,6,5,5,6,5,5,5,5,5,6,6,6,6,6,5,5,5,5,5,4,5,5,5,5,6,6,6,6,6,6,6,6,6,6,6,6,6,6,6,6,6,-1,0,0,6,7,7,7,7,6,6,6,6,6],
[5,5,5,5,5,5,5,-1,-1,0,5,5,4,5,5,5,5,5,5,5,5,5,5,5,5,5,5,5,5,5,6,6,6,6,6,6,7,7,7,7,6,6,6,0,-1,0,0,-2,4,4,5,6,6,5,5,5,5,5,5,5],
[3,3,3,3,3,3,0,-2,-3,-2,-3,-2,1,3,4,5,5,4,4,5,4,4,4,5,5,5,5,5,4,4,6,6,6,6,6,6,5,6,7,7,6,3,3,-2,-3,-2,3,2,2,1,2,4,5,5,5,5,5,5,6,6],
[3,2,1,1,1,0,0,-2,-2,-3,-2,1,0,3,3,3,4,4,3,4,4,3,4,4,5,5,5,5,5,5,5,5,5,5,5,5,5,5,5,6,6,3,3,-2,-3,-2,0,2,1,0,0,3,4,4,5,5,5,5,5,5],
[2,1,0,0,0,0,1,-1,0,-1,0,1,1,3,3,3,4,4,4,4,3,3,4,5,5,5,5,4,4,4,4,5,5,5,5,5,5,5,4,4,3,3,2,2,2,2,2,-1,0,-1,1,3,4,4,5,5,5,5,4,4],
[3,3,3,3,3,3,3,3,3,3,2,2,3,3,4,4,5,5,5,5,5,5,5,4,4,4,4,4,3,3,3,5,6,6,6,6,6,5,4,4,3,3,2,1,2,3,2,2,2,3,4,4,4,5,5,4,3,2,2,2],
[4,4,4,4,4,4,4,4,4,4,3,3,4,4,5,6,6,6,6,6,6,5,5,4,4,4,3,4,3,3,5,6,7,7,7,7,6,5,4,4,3,3,2,2,2,3,2,3,4,4,4,4,4,3,3,2,0,-1,0,-1],
[3,4,4,4,3,3,3,3,3,3,3,3,2,3,5,6,7,7,7,7,7,6,6,5,4,4,4,3,3,3,4,6,7,8,8,8,7,6,5,4,4,3,2,2,2,3,3,3,4,4,3,-1,0,-1,0,0,0,-2,-2,0],
[2,-1,1,2,2,2,1,0,0,0,-1,1,1,2,3,5,7,8,8,8,7,6,6,5,4,4,4,5,5,4,5,6,7,8,8,8,7,6,5,4,4,4,3,3,3,4,4,4,4,4,3,2,0,0,-1,0,-1,0,1,0],
[0,-1,1,2,2,1,1,0,0,0,0,-1,0,-2,3,4,6,7,7,7,6,5,5,4,4,4,5,5,5,4,4,6,7,8,9,8,7,6,5,4,4,4,3,3,4,4,5,5,5,5,4,3,1,1,-1,0,-1,0,0,2],
[2,2,2,2,2,2,2,2,2,2,1,1,-1,0,-1,0,0,5,7,7,5,5,4,4,4,4,3,-2,4,4,5,5,7,8,8,8,8,6,5,4,4,4,4,3,4,4,5,5,5,5,6,4,4,4,3,1,1,1,0,0],
[5,5,5,5,5,5,5,4,4,4,4,-2,4,-1,4,4,5,5,6,6,6,5,5,4,-1,4,-1,4,4,4,4,6,6,7,7,7,6,5,4,4,4,4,4,4,5,5,5,5,5,5,4,4,4,5,5,4,4,3,3,3],
[6,6,6,6,6,6,5,6,6,6,6,6,6,6,-1,4,4,5,7,6,7,6,5,6,6,-1,6,6,5,5,6,6,4,6,6,6,6,6,6,6,5,5,6,6,6,6,6,6,6,6,5,5,6,6,6,5,5,5,5,5],
[7,7,7,7,7,6,7,7,7,7,7,7,7,8,-1,7,7,_,7,8,8,7,7,7,6,7,6,7,7,6,7,6,7,6,7,7,7,6,7,7,7,7,7,7,7,7,7,8,7,7,7,7,7,7,7,7,7,6,7,7],
[8,7,8,8,8,7,8,-1,7,8,8,8,7,7,7,8,7,_,8,7,8,8,7,7,7,8,7,-1,8,7,0,_,7,7,8,8,7,7,_,8,7,8,7,8,7,8,8,_,8,7,8,8,7,8,-1,7,8,7,_,8],
[8,8,7,8,8,7,8,8,7,8,_,8,8,_,_,8,8,7,_,8,8,8,_,7,_,7,7,7,8,7,_,_,8,_,8,_,8,_,_,7,8,8,8,_,8,8,_,8,7,8,8,_,8,7,8,8,_,0,8,7],
[7,7,8,8,7,7,8,8,7,7,_,_,6,_,_,-1,7,8,7,7,7,7,6,6,6,6,6,7,7,7,7,7,7,7,7,8,8,8,8,8,8,8,8,8,7,8,8,8,8,8,8,7,8,8,7,7,8,8,8,8],
[3,3,4,4,-1,3,_,-1,_,3,_,_,-1,_,_,-1,_,-1,_,0,-1,-1,4,0,-2,3,4,4,3,3,3,4,4,3,3,3,3,3,3,3,3,3,3,3,3,3,3,3,3,3,3,3,3,3,3,3,3,3,3,3],
[2,2,2,2,_,2,_,-1,0,-1,-1,_,0,-1,-1,3,_,0,_,2,_,_,_,_,_,_,_,2,_,2,2,2,2,2,2,2,2,2,2,2,2,2,2,2,2,2,2,2,2,2,2,2,2,2,2,2,2,2,2,2]
];

const xTickValues=[-180,-120,-60,0,60,120,180];
const xTickLabels=['180°','120°W','60°W','0°','60°E','120°E','180°'];
const yTickValues=[90,60,30,0,-30,-60];
const yTickLabels=['90°N','60°N','30°N','0°','30°S','60°S'];
const gridLonValues=[-120,-60,0,60,120];
const gridLatValues=[60,30,0,-30,-60];
const seqTickValues=[0,1.5,3,4.5,6];
const seqTickLabels=['0','1.5','3','4.5','6'];
const diffTickValues=[-1.2,-0.6,0,0.6,1.2];
const diffTickLabels=['−1.2','−0.6','0','0.6','1.2'];
const skillTickValues=[-0.8,-0.4,0,0.4,0.8];
const skillTickLabels=['−0.8','−0.4','0','0.4','0.8'];
const seqColors=['#000000','#7f007f','#16009c','#0218dc','#0090dd','#00a8a0','#009b40','#00bb00','#00ee00','#a0ff00','#f5e000','#ffa000','#ff0000','#d00000'];
const seqOverColor='#cccccc';
const divStops=[[5,48,97],[33,102,172],[67,147,195],[146,197,222],[209,229,240],[247,247,247],[253,219,199],[244,165,130],[214,96,77],[178,24,43],[103,0,31]];

const coastlines=[
[-168,65.6,-164,66.5,-166,68.3,-162,70,-156.5,71.3,-150,70.5,-141,69.7,-135,69,-128,70,-120,69.5,-115,68,-108,68,-100,68,-95,69,-94,72,-90,69,-85,69.5,-82,68,-87,65,-93,62,-94,59,-92,57,-85,55.3,-82,55,-82,52.5,-79,51.5,-79,54.5,-77,56,-78,59,-78,62,-72,61.5,-69,58.5,-65,60,-62,57,-56,53,-60,50,-66,50,-70,47,-65,49,-64,46.5,-61,46,-66,44,-70,43.5,-71,41.5,-74,40.5,-76,37,-76,35,-81,31.5,-80,26,-81,25,-83,29,-85,29.7,-90,29,-94,29.5,-97.5,26,-97.7,22,-95,18.5,-91,18.5,-90.5,21,-87,21.5,-88,16,-83.5,15,-83.5,11,-80,9,-77.5,8.5,-80,7.5,-84,9,-87,13,-92,14.5,-96,16,-102,18,-105.5,20,-105,22,-109,26,-112.5,30,-114.5,31.5,-112,26,-110,23,-112,25,-115,29,-117,32.5,-120.5,34.5,-124,40,-124,47,-123,49,-128,51,-130,54.5,-134,57.5,-140,60,-146,61,-151,60,-153,58,-158,56.5,-164,54.5,-158,58.5,-162,59,-165,62,-161,64,-168,65.6],
[-73,78,-65,81.5,-50,82.5,-30,83.5,-20,81,-20,74,-22,70,-32,68,-40,65,-43,60,-48,61,-53,66,-54,70,-60,76,-73,78],
[-80,73,-72,71,-64,66,-66,62,-72,64,-78,65,-74,68,-85,70,-80,73],
[-118,72,-105,73,-102,69,-115,69,-118,72],
[-90,77,-75,79,-62,82.5,-80,83,-92,81,-90,77],
[-125,72,-118,74,-116,73,-120,71.5,-125,72],
[-110,76,-100,76,-98,75,-112,74.7,-110,76],
[-92,75,-80,75,-82,73.5,-92,74,-92,75],
[-122,76,-115,77.5,-112,76.2,-122,76],
[-100,80,-90,79,-88,78,-98,78,-100,80],
[-86,65,-81,64,-85,63,-86,65],
[-59,47.7,-53,47,-55,51,-59,47.7],
[-128,50,-124,48.5,-125,50,-128,50],
[-133,54,-131,52,-132,54,-133,54],
[-157,21,-155,19.2,-156,20,-157,21],
[-85,22,-80,23,-74,20,-78,20,-85,22],
[-74,19,-69,19,-71,18,-74,19],
[-78,18.4,-76,18,-78,18,-78,18.4],
[-24,65.5,-18,66.3,-14,65,-18,63.5,-23,64,-24,65.5],
[12,78,20,80,25,78,17,76.5,12,78],
[52,71,57,74,68,77,60,75,55,71,52,71],
[50,80,60,81,55,79.8,50,80],
[95,79,105,79,100,81,95,79],
[140,75,150,75,145,74,140,75],
[-180,71,-178,71.3,-178,70.8,-180,71],
[-77,8.5,-72,12,-68,11,-62,10.5,-57,6,-51,4,-50,0,-44,-2.5,-38,-4,-35,-7,-39,-15,-41,-22,-48,-25.5,-49,-29,-54,-34.5,-58,-34.5,-57,-38,-62,-39,-65,-41,-65,-45,-68,-50,-68,-53,-65,-55,-71,-54,-75,-50,-73,-42,-73,-37,-71,-30,-70,-18,-76,-14,-81,-6,-80,-2,-78,2,-77,8.5],
[-61,-51.5,-58,-51.7,-59,-52.3,-61,-51.5],
[-6,36,10,37,11,33.5,20,31,25,32,32,31,34,28,37,21,39,15,43,12,51,12,48,5,40,-3,39,-7,40,-15,35,-20,35,-24,32,-28,26,-34,18,-34.5,15,-27,12,-17,13.5,-10,9,-1,9.5,4,5,5.5,4,6,-4,5,-8,4.5,-13,8.5,-17,14.5,-16,21,-13,28,-9,32,-6,36],
[49,-12,50.5,-16,47,-25,44,-24,44,-16,49,-12],
[-9,37,-9,43,-2,43.5,-1,46,-4.5,48.5,2,51,4,52,8,54,8,57,10.5,57,10,54,14,54,19,54.5,21,57,24,58,24,59.5,30,60,23,60,21.5,63,25,65.5,22,66,17,62,18,60,16,56,13,55.5,11,59,6,58,5,62,14,68,25,71,31,70,41,67,33,66.5,40,64.5,44,68,54,68.5,68,69,67,72,73,73,75,68,74,72.5,85,74,100,77,113,74,130,71,140,73,160,70,170,70,180,69],
[180,65,178,62.5,170,60,163,60,163,56,157,51,156,57,160,60,155,59,143,59,135,54,141,53,140,48,132,43,128,40,129,36,126,34.5,126,37,124.5,40,121,39,118,39,122,37,119,35,122,31,120,26,114,22,108,21.5,106,19,109,13,105,9,100.5,13.5,100,8,103.5,1.5,101,3,98.5,8,98,16,94,16,94,19,91,22.5,87,21,80,15,80,10,77.5,8,73,19,72.5,21,69,22,67,25,62,25,57,26,52,28,48.5,30,50,26,52,24,56,26,59.5,22.5,55,17,45,13,43,15,39,21,35,28,35,32,36,36,30,36,27,37,26,40,32,41.5,38,41,41.5,41.5,37,45,35,45,33,46,29,45,27.5,42,29,41,26,40.5,23,40,24,38,23,36.5,20,39.5,19,42,14,45,12.5,44,18,40,16,38,12,42,8.5,44,3,43,0,39,-2,37,-5,36,-9,37],
[-180,68.5,-175,67.5,-170,66,-173,64.5,-178,65.5,-180,65],
[47,45,53,47,51,44,54,40,53.5,37,49,38,50,40,47,45],
[142,54,143,49,142,46,142,54],
[130,33,135,34,140,35,142,40,140,41,137,37,131,34.5,130,33],
[140,42,142,45.5,145,43,140,42],
[121,25,120,22,120,25,121,25],
[120.5,18,122,18,124,13,120,14,120.5,18],
[122,8,126,9,126,6,122,7,122,8],
[109,1,112,3,117,7,119,5,118,1,116,-4,110,-3,109,1],
[95,5.5,98,4,104,-2,106,-6,102,-5,97,2,95,5.5],
[105,-6.5,111,-6.5,114.5,-8,106,-7.5,105,-6.5],
[120,1,125,1.5,121,-1,123,-5,120,-5,120,1],
[131,-1,141,-2.5,147,-6,150.5,-10.5,144,-8,138,-8,133,-4,131,-1],
[148,-6,152,-4.5,151,-6,148,-6],
[124,-9,127,-8.5,124,-10,124,-9],
[157,-7,161,-10,159,-9,157,-7],
[164,-20,167,-22,165,-21.5,164,-20],
[114,-22,122,-18,126,-14,130,-12,136,-12,136,-15,140,-17.5,142,-11,146,-19,153,-25,153,-30,150,-37,146,-39,140,-38,136,-35,131,-31.5,124,-33,116,-35,115,-32,114,-22],
[145,-41,148,-41,147,-43.5,145,-41],
[173,-35,178,-38,175,-41,174,-39,173,-35],
[172,-41,174,-42,168,-46.5,167,-45,172,-41],
[80,9.5,82,7,80.5,6,80,9.5],
[-5,50,1,51,0,53.5,-2,56,-3,58.5,-6,57,-3,54,-5,52,-5,50],
[-10,52,-6,52,-6,55,-10,54,-10,52],
[69,-49,70.5,-49.5,69.5,-50,69,-49],
[-180,-84.3,-160,-84.8,-143,-85,-152,-83.5,-157,-82,-150,-80.5,-158,-78.5,-150,-76.5,-128,-73.6,-75,-73,-68,-69,-65.6,-65,-57,-63,-62,-67,-63,-71,-69,-74,-77.5,-78,-65.6,-80,-58,-83,-44,-81,-35,-78,-30,-78.5,-16.7,-73,-1,-70,27.5,-69,51,-65.6,65.6,-67.5,69,-72,80,-67.5,111,-66.7,134,-65.6,170.5,-72,163,-79,168,-82,180,-85]
];
const borders=[
[-123,49,-95,49,-89,48,-83,46,-82.5,42,-79,43,-75,45,-71,45,-67,47.3,-67,45],
[-141,69.7,-141,60],
[-117,32.5,-106.5,31.7,-103,29,-97.5,26],
[-92,14.5,-91,17.8,-89,18],[-88,16,-89,14,-87.5,13],[-83.5,15,-85,11,-83.5,11],[-83,8.3,-82.5,9.5],
[-72,12,-72,7,-67.5,6,-67,1],[-79,1.5,-75,0,-70,-4],[-67,1,-70,-1,-70,-4],
[-60,8.5,-60,5,-64,4,-64,2,-67,1],[-57,6,-58,2],[-54,5.5,-54,2],[-64,2,-60,1,-58,2,-54,2,-51,4],
[-80.5,-3.5,-78,-4,-75,-0.5],[-70,-4,-74,-7,-70,-11,-69,-15,-69,-17,-70,-18],
[-70,-11,-65,-10,-60,-14,-58,-18,-58,-20],[-58,-20,-62,-22],[-69,-18,-68,-23,-62,-22],
[-62,-22,-58,-25,-55,-27,-54.5,-25.5,-55,-22,-58,-20],[-68,-23,-70,-33,-71.5,-40,-72,-50,-68.5,-52.5],
[-54.5,-25.5,-57.5,-30],[-57.5,-30,-53.5,-33.5],[-57.5,-30,-58,-34],
[-2,35,-1,32,-8.5,28,-8.7,27.3,-13,27.7],[-8.7,27.3,-8.7,26,-13,23,-17,21.3],
[8.5,37,8,33,10,30,9.5,26,12,23.5],[-4.8,25,1,21,3,19,6,19.5,12,23.5],
[-8.7,27.3,-4.8,25,-6,15.5,-12,15,-16.5,16],[11.5,33,10,30],[25,32,25,20,24,19.5,24,15],[15,23,12,23.5],
[25,22,37,22],[15,23,24,19.5,22,11,15,7.5,14,13,15,23],[4,14,14,13],[3,15,-6,15.5],[3,19,3,15,4,14],
[24,15,22,11,27,5,35,5,34,10,36.5,14,39,15],[43,12,42,10,48,8,45,5,41,4,35,5],[41,4,41,-1.5],
[34,4,34,-1,39,-4.7],[30,-1,34,-1],[12,-6,17,-6,22,-11,28,-12,30,-8,29,-2,30,3,27,5,18,3.5,17,-1,12,-5],
[12,-17,24,-17.5,22,-11],[24,-17.5,30,-15.5,33,-9,30,-8],[16.5,-28.5,20,-28.5,20,-22,25,-18],
[20,-22,25,-25.7,29,-22,25,-18],[40,-11,35,-11,35,-16,30,-15.5],[30,-15.5,33,-25,32,-26.5],[33,-9,35,-11],
[9,4,14,13],[15,7.5,18,3.5],[-3,5,-3,11,1,11,1,6],[-15,11,-8,8,-8,4.5],[-8,8,-12,15],[3,6.5,4,14],[-3,11,-6,15.5],
[-2,43.5,3,42.5],[2.5,51,6,49.5,8,49,7.5,47.5,6,46,7,44],[14,54,15,51],[12,50.5,15,51,19,49.5],
[7.5,47.5,13,47.5,17,48],[19,54.5,23.5,54,24,50.5,22,49,19,49.5],[21,56,28,56],[24,58,28,59.5],
[23.5,54,28,56,32,53,31,51,24,51],[32,53,40,49.5,38,47],[22,48,30,45.5],[22,44,29,44],[22,48,20,46,22,44],
[13.5,45.5,19,45,21,42],[19,42,23,41,26,41.5],[12,59,13,64,20,69,29,70],[24,66,29,62,28,60],[30,63,29,70],
[36,36.5,44.5,37,44,40,41.5,41.5],[40,43.5,48,41.5],
[47,50,50,51,60,51,62,54,71,55,77,53,83,51,87,49],[53,42,56,45,60,44,66,41,70,42,80,43,80,46,85,47,87,49],
[87,49,98,52,105,50,115,50,120,53,126,53,135,48,131,43],[87,49,91,45,97,43,105,42,112,44,120,47,116,50],
[80,43,74,39,78,35,79,31,88,28,97,28,98,24,102,22,108,21.5],[61,35,61,30,66,29.5,70,33,74,37],
[44.5,39,48,39],[44.5,37,46,33,48.5,30],[61.5,25,61,30],[54,37.5,61,35],[61,35,66,37,74,37],[66,37,60,44],
[39,32,46,29,48,29],[43,17,52,19,55,20,56,24],[36,33,42,37,39,32],[68,24,71,28,74,32,78,35],
[80,29,88,26,92,25,89,22],[92,22,94,24,97,28],[98,24,101,21,98,16],[101,21,105,18,107,14,106,11],[102,13,105,14],
[141,-2.5,141,-9],[110,1,115,4,118,4]
];

const svgNs='http://www.w3.org/2000/svg';
const figure=document.getElementById('figure');
const mapW=607, mapH=303.3;
const cellDeg=6, gridTopLat=85;

function make(tag,parent,attrs,txt){
  const n=document.createElementNS(svgNs,tag);
  for(const k in attrs){n.setAttribute(k,attrs[k]);}
  if(txt!==undefined){n.textContent=txt;}
  parent.appendChild(n);
  return n;
}
function seqColor(v){
  const i=Math.max(0,Math.min(seqColors.length-1,Math.floor(v)));
  return seqColors[i];
}
function divColor(bin,nBins){
  const t=Math.max(0,Math.min(1,(bin+0.5)/nBins))*(divStops.length-1);
  const i=Math.min(divStops.length-2,Math.floor(t));
  const f=t-i;
  const a=divStops[i], b=divStops[i+1];
  const c=[0,1,2].map(function(k){return Math.round(a[k]+(b[k]-a[k])*f);});
  return 'rgb('+c.join(',')+')';
}
function drawTitle(panel){
  const cx=panel.x+mapW/2;
  const tag=make('text',figure,{x:panel.x,y:panel.y-18.8,'font-size':20,'font-weight':'bold'},panel.tag);
  
  
  panel.title.forEach(function(line,i){
    const off=(panel.title.length-1-i)*22.6;
    const t=make('text',figure,{x:cx,y:panel.y-18.8-off,'font-size':20.5,'text-anchor':'middle'},line);
    
    
  });
}
function drawMap(panel){
  const xOf=function(lon){return panel.x+(lon+180)/360*mapW;};
  const yOf=function(lat){return panel.y+(90-lat)/180*mapH;};
  const group=make('g',figure,{});
  
  
  panel.data.forEach(function(row,r){
    row.forEach(function(v,c){
      if(v===null){return;}
      const lon=-180+c*cellDeg, lat=gridTopLat-r*cellDeg;
      const cell=make('rect',group,{x:xOf(lon).toFixed(2),y:yOf(lat).toFixed(2),width:(cellDeg/360*mapW+0.4).toFixed(2),height:(cellDeg/180*mapH+0.4).toFixed(2),fill:panel.cellColor(v),'shape-rendering':'crispEdges'});
      
      
    });
  });
  gridLonValues.forEach(function(lon){
    const g=make('line',group,{x1:xOf(lon),x2:xOf(lon),y1:panel.y,y2:panel.y+mapH,stroke:'#000','stroke-opacity':0.13,'stroke-width':1.4});
    
    
  });
  gridLatValues.forEach(function(lat){
    const g=make('line',group,{x1:panel.x,x2:panel.x+mapW,y1:yOf(lat),y2:yOf(lat),stroke:'#000','stroke-opacity':0.13,'stroke-width':1.4});
    
    
  });
  const toPath=function(lines){
    return lines.map(function(pts){
      let d='';
      for(let i=0;i<pts.length;i+=2){d+=(i?'L':'M')+xOf(pts[i]).toFixed(1)+' '+yOf(pts[i+1]).toFixed(1);}
      return d;
    }).join('');
  };
  const b=make('path',group,{d:toPath(borders),fill:'none',stroke:'#000','stroke-width':1.3,'stroke-linejoin':'round'});
  
  
  const co=make('path',group,{d:toPath(coastlines),fill:'none',stroke:'#000','stroke-width':1.7,'stroke-linejoin':'round'});
  
  
  const frame=make('rect',group,{x:panel.x,y:panel.y,width:mapW,height:mapH,fill:'none',stroke:'#222','stroke-width':1.8});
  
  
  xTickValues.forEach(function(lon,i){
    const t=make('text',figure,{x:xOf(lon),y:panel.y+mapH+21.6,'font-size':18,'text-anchor':'middle'},xTickLabels[i]);
    
    
  });
  yTickValues.forEach(function(lat,i){
    const t=make('text',figure,{x:panel.x-8.8,y:yOf(lat)+5,'font-size':18,'text-anchor':'end'},yTickLabels[i]);
    
    
  });
}
function drawColorbar(panel){
  const top=panel.y+339.3, bottom=panel.y+370, mid=(top+bottom)/2;
  const bar=make('g',figure,{});
  
  
  let scale, start, end, ticks, labels, outline;
  if(panel.kind==='seq'){
    scale=function(v){return panel.x+v*78.93;};
    start=scale(0); end=scale(7);
    seqColors.forEach(function(col,i){
      const s=make('rect',bar,{x:scale(i*0.5),y:top,width:78.93*0.5+0.4,height:bottom-top,fill:col,'shape-rendering':'crispEdges'});
      
      
    });
    const over=make('polygon',bar,{points:end+','+top+' '+(panel.x+mapW+0.6)+','+mid+' '+end+','+bottom,fill:seqOverColor});
    
    
    outline=start+','+top+' '+end+','+top+' '+(panel.x+mapW+0.6)+','+mid+' '+end+','+bottom+' '+start+','+bottom;
    ticks=seqTickValues; labels=seqTickLabels;
  }else{
    const half=254, cx=panel.x+mapW/2-0.2, n=panel.bins, lim=panel.limit;
    scale=function(v){return cx+v/lim*half;};
    start=scale(-lim); end=scale(lim);
    for(let i=0;i<n;i++){
      const v=-lim+i*2*lim/n;
      const s=make('rect',bar,{x:scale(v),y:top,width:2*half/n+0.4,height:bottom-top,fill:divColor(i,n),'shape-rendering':'crispEdges'});
      
      
    }
    const under=make('polygon',bar,{points:start+','+top+' '+(panel.x-0.4)+','+mid+' '+start+','+bottom,fill:'#07305f'});
    
    
    const over=make('polygon',bar,{points:end+','+top+' '+(panel.x+mapW+0.6)+','+mid+' '+end+','+bottom,fill:'#67001f'});
    
    
    outline=start+','+top+' '+end+','+top+' '+(panel.x+mapW+0.6)+','+mid+' '+end+','+bottom+' '+start+','+bottom+' '+(panel.x-0.4)+','+mid;
    ticks=panel.ticks; labels=panel.tickLabels;
  }
  const o=make('polygon',bar,{points:outline,fill:'none',stroke:'#111','stroke-width':1.4});
  
  
  ticks.forEach(function(v,i){
    const tk=make('line',bar,{x1:scale(v),x2:scale(v),y1:bottom,y2:bottom+8,stroke:'#000','stroke-width':1.4});
    
    
    const lb=make('text',bar,{x:scale(v),y:panel.y+397,'font-size':18,'text-anchor':'middle'},labels[i]);
    
    
  });
  if(panel.unitPrefix!==null){
    const u=make('text',bar,{x:panel.x+mapW/2-0.5,y:panel.y+422,'font-size':18.5,'text-anchor':'middle'});
    
    
    make('tspan',u,{},panel.unitPrefix+'10');
    make('tspan',u,{'font-size':12.5,dy:-7},'18');
    make('tspan',u,{dy:7},' mol/cm');
    make('tspan',u,{'font-size':12.5,dy:-7},'2');
  }
}
const seqCell=function(v){return seqColor(v);};
const diffCell=function(v){return divColor(Math.floor(v)+15,30);};
const skillCell=function(v){return divColor(Math.floor(v)+10,20);};
const panels=[
 {tag:'(a)',title:['MOPITT CO'],x:50,y:34.7,data:mopittCo,cellColor:seqCell,kind:'seq',unitPrefix:''},
 {tag:'(b)',title:['UFS-RAQMS Control'],x:746,y:34.7,data:controlCo,cellColor:seqCell,kind:'seq',unitPrefix:''},
 {tag:'(c)',title:['UFS-RAQMS Control - MOPITT CO'],x:1442,y:34.7,data:controlMinusMopitt,cellColor:diffCell,kind:'div',bins:30,limit:1.5,ticks:diffTickValues,tickLabels:diffTickLabels,unitPrefix:'Δ'},
 {tag:'(d)',title:['RSME Skill Score for Assimilation','relative to control, UFSv9.1'],x:50,y:548.7,data:skillScore,cellColor:skillCell,kind:'div',bins:20,limit:1,ticks:skillTickValues,tickLabels:skillTickLabels,unitPrefix:null},
 {tag:'(e)',title:['UFS-RAQMS TROPOMI DA'],x:746,y:548.7,data:assimilationCo,cellColor:seqCell,kind:'seq',unitPrefix:''},
 {tag:'(f)',title:['UFS-RAQMS TROPOMI DA - MOPITT CO'],x:1442,y:548.7,data:assimilationMinusMopitt,cellColor:diffCell,kind:'div',bins:30,limit:1.5,ticks:diffTickValues,tickLabels:diffTickLabels,unitPrefix:'Δ'}
];
panels.forEach(function(p){
  drawTitle(p);
  drawMap(p);
  drawColorbar(p);
});
</script>
</body>
</html>
